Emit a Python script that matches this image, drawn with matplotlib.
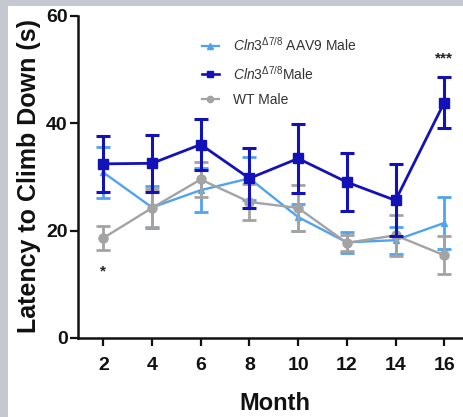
import matplotlib
matplotlib.use("Agg")
import matplotlib.pyplot as plt
from matplotlib.patches import Rectangle
from matplotlib.lines import Line2D

# ---------------- data ----------------
months = [2, 4, 6, 8, 10, 12, 14, 16]

aav9_mean = [30.8, 24.3, 27.5, 29.7, 22.5, 17.8, 18.2, 21.4]
aav9_sem = [4.7, 3.9, 4.1, 4.0, 2.5, 2.0, 2.5, 4.8]

cln3_mean = [32.4, 32.5, 36.0, 29.7, 33.4, 29.0, 25.6, 43.8]
cln3_sem = [5.2, 5.3, 4.8, 5.6, 6.5, 5.4, 6.7, 4.8]

wt_mean = [18.6, 24.2, 29.5, 25.3, 24.2, 17.7, 19.1, 15.4]
wt_sem = [2.2, 3.5, 3.2, 3.3, 4.2, 1.5, 3.8, 3.5]

yticks = [0, 20, 40, 60]
labels = [r"$\mathit{Cln3}^{\mathit{\Delta 7/8}}$ AAV9 Male",
          r"$\mathit{Cln3}^{\mathit{\Delta 7/8}}$Male",
          "WT Male"]
sig_marks = [(2, 12.3, "*"), (16, 52.0, "***")]

# ---------------- style ----------------
plt.rcParams['mathtext.fontset'] = 'custom'
plt.rcParams['mathtext.rm'] = 'Liberation Sans'
plt.rcParams['mathtext.it'] = 'Liberation Sans:italic'
plt.rcParams['font.family'] = ['Liberation Sans', 'DejaVu Sans']

W, H = 463, 417
fig = plt.figure(figsize=(W / 100, H / 100), dpi=100)
fig.patch.set_facecolor('white')

# gray frame bands
fig.patches.append(Rectangle((0, 1 - 6 / H), 1, 6 / H, transform=fig.transFigure,
                             facecolor='#c5c8d1', edgecolor='none', zorder=10))
fig.patches.append(Rectangle((0, 0), 8 / W, 1, transform=fig.transFigure,
                             facecolor='#c5c8d1', edgecolor='none', zorder=10))

ax_l, ax_r = 78, 463
ax_t, ax_b = 15.5, 338
ax = fig.add_axes([ax_l / W, 1 - ax_b / H, (ax_r - ax_l) / W, (ax_b - ax_t) / H])

c_light = '#4fa3f2'
c_dark = '#1212b8'
c_gray = '#a3a3a3'

ax.errorbar(months, aav9_mean, yerr=aav9_sem, color=c_light, marker='^', markersize=5,
            lw=1.7, capsize=5, capthick=2.0, elinewidth=2.0, zorder=3)
ax.errorbar(months, wt_mean, yerr=wt_sem, color=c_gray, marker='o', markersize=6.5,
            lw=1.7, capsize=5, capthick=2.0, elinewidth=2.0, zorder=4)
ax.errorbar(months, cln3_mean, yerr=cln3_sem, color=c_dark, marker='s', markersize=7.5,
            lw=2.0, capsize=5, capthick=2.2, elinewidth=2.2, zorder=5)

for x, y, s in sig_marks:
    ax.text(x, y, s, ha='center', va='center', fontsize=11, fontweight='bold', color='#222222')

# axes formatting
x0 = 2 - (103.3 - ax_l) / 48.7 * 2
x1 = 2 + (ax_r - 103.3) / 48.7 * 2
ax.set_xlim(x0, x1)
ax.set_ylim(0, 60)
ax.set_xticks(months)
ax.set_yticks(yticks)
for s in ['top', 'right']:
    ax.spines[s].set_visible(False)
for s in ['left', 'bottom']:
    ax.spines[s].set_linewidth(1.8)
    ax.spines[s].set_color('#111111')
ax.tick_params(axis='both', length=5.5, width=1.6, color='#111111')
ax.tick_params(axis='x', pad=8)
ax.tick_params(axis='y', pad=2)
for lab in ax.get_xticklabels() + ax.get_yticklabels():
    lab.set_family(['Liberation Sans Narrow', 'Liberation Sans'])
    lab.set_fontweight('bold')
    lab.set_fontsize(14)
    lab.set_color('#111111')

ax.set_xlabel('Month', fontsize=17, fontweight='bold', va='center',
              family=['Liberation Sans Narrow', 'Liberation Sans'], color='#111111')
ax.xaxis.set_label_coords((275 - ax_l) / (ax_r - ax_l), -(404 - ax_b) / (ax_b - ax_t))
ax.set_ylabel('Latency to Climb Down (s)', fontsize=18, fontweight='bold', va='center',
              color='#111111')
ax.yaxis.set_label_coords(-(ax_l - 29) / (ax_r - ax_l), (ax_b - 176) / (ax_b - ax_t))

handles = [Line2D([], [], color=c_light, marker='^', markersize=4, lw=1.6),
           Line2D([], [], color=c_dark, marker='s', markersize=5, lw=1.9),
           Line2D([], [], color=c_gray, marker='o', markersize=4.5, lw=1.6)]
leg = ax.legend(handles, labels, loc='upper left',
                bbox_to_anchor=(202 / W, 1 - 36 / H), bbox_transform=fig.transFigure,
                frameon=False, fontsize=10, handlelength=1.2, handletextpad=1.0,
                labelspacing=0.75, borderaxespad=0, borderpad=0)
for t in leg.get_texts():
    t.set_color('#333333')

fig.savefig('out.png', dpi=100, facecolor='white')
